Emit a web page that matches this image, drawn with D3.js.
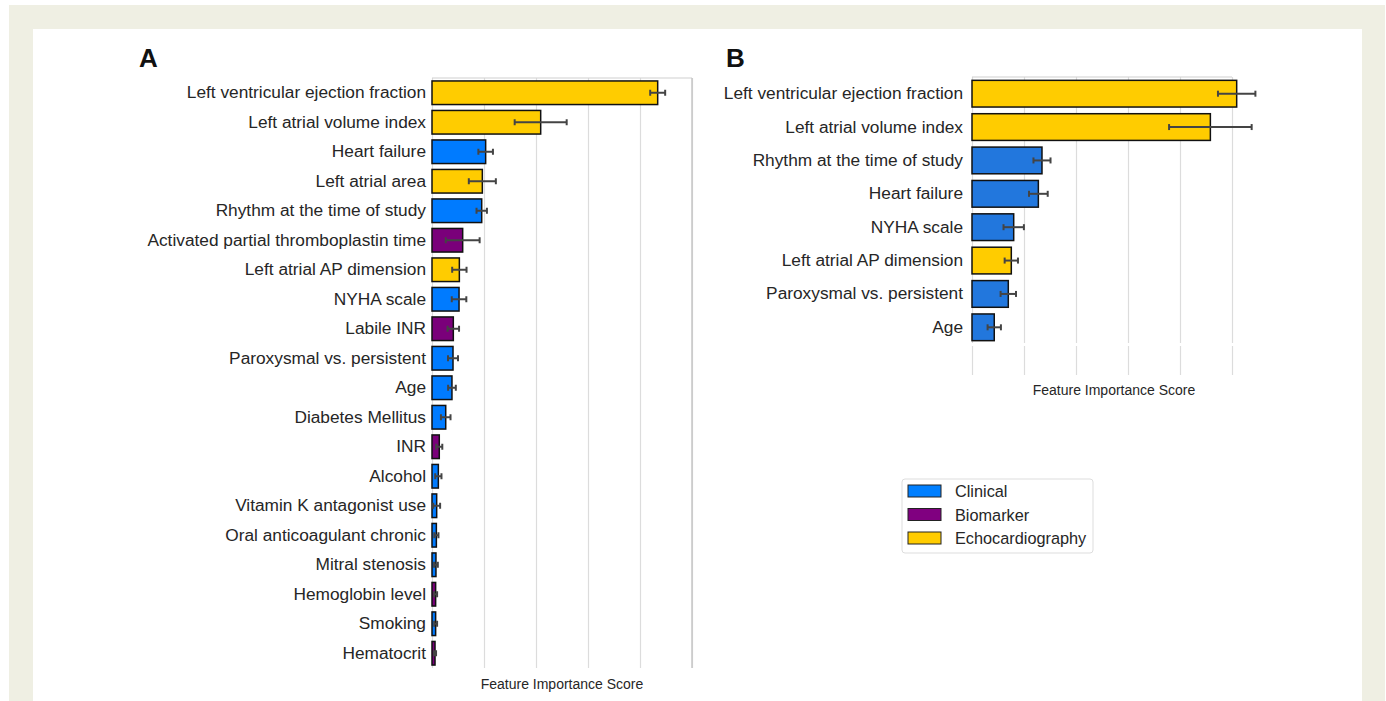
<!DOCTYPE html>
<html>
<head>
<meta charset="utf-8">
<script src="https://cdn.jsdelivr.net/npm/d3@7"></script>
<style>
body { margin: 0; background: #fff; }
text { font-family: "Liberation Sans", Arial, sans-serif; }
</style>
</head>
<body>
<div id="chart"></div>
<script>
// panel A: all features
var featuresA = ["Left ventricular ejection fraction", "Left atrial volume index", "Heart failure",
    "Left atrial area", "Rhythm at the time of study", "Activated partial thromboplastin time",
    "Left atrial AP dimension", "NYHA scale", "Labile INR", "Paroxysmal vs. persistent", "Age",
    "Diabetes Mellitus", "INR", "Alcohol", "Vitamin K antagonist use", "Oral anticoagulant chronic",
    "Mitral stenosis", "Hemoglobin level", "Smoking", "Hematocrit"];
var scoresA = [0.217, 0.1045, 0.0516, 0.0484, 0.0478, 0.0295, 0.0263, 0.026, 0.0205, 0.0202, 0.0192,
    0.0132, 0.007, 0.0061, 0.0045, 0.0042, 0.0038, 0.0035, 0.0035, 0.0029];
var errorsA = [0.0072, 0.025, 0.007, 0.013, 0.005, 0.0163, 0.0069, 0.007, 0.0055, 0.0048, 0.0037,
    0.0046, 0.0029, 0.003, 0.0033, 0.002, 0.0018, 0.0014, 0.0014, 0.001];
var groupsA = ["Echocardiography", "Echocardiography", "Clinical", "Echocardiography", "Clinical",
    "Biomarker", "Echocardiography", "Clinical", "Biomarker", "Clinical", "Clinical", "Clinical",
    "Biomarker", "Clinical", "Clinical", "Clinical", "Clinical", "Biomarker", "Clinical", "Biomarker"];

// panel B: selected features
var featuresB = ["Left ventricular ejection fraction", "Left atrial volume index", "Rhythm at the time of study",
    "Heart failure", "NYHA scale", "Left atrial AP dimension", "Paroxysmal vs. persistent", "Age"];
var scoresB = [0.2545, 0.2292, 0.0673, 0.0638, 0.0401, 0.0378, 0.0349, 0.0214];
var errorsB = [0.018, 0.0397, 0.0082, 0.009, 0.0098, 0.0064, 0.0074, 0.0064];
var groupsB = ["Echocardiography", "Echocardiography", "Clinical", "Clinical", "Clinical",
    "Echocardiography", "Clinical", "Clinical"];

var categories = ["Clinical", "Biomarker", "Echocardiography"];
var gridTicks = [0, 0.05, 0.1, 0.15, 0.2, 0.25];

var colorA = d3.scaleOrdinal(categories, ["#007bff", "#7a007a", "#ffcc00"]);
var colorB = d3.scaleOrdinal(categories, ["#2277dd", "#7a007a", "#ffcc00"]);
var colorLegend = d3.scaleOrdinal(categories, ["#007fff", "#800080", "#ffcc00"]);

var svg = d3.select("#chart")
    .append("svg")
    .attr("width", 1386)
    .attr("height", 701);

// beige frame
svg.append("rect").attr("x", 9).attr("y", 5).attr("width", 1376).attr("height", 696).attr("fill", "#efefe3");
svg.append("rect").attr("x", 33).attr("y", 29).attr("width", 1329).attr("height", 672).attr("fill", "#fff");

function drawPanel(cfg) {
    var list = cfg.names.map(function (n, i) {
        return { name: n, score: cfg.scores[i], err: cfg.errors[i], group: cfg.groups[i] };
    });

    var x = d3.scaleLinear().domain([0, 0.25]).range([cfg.left, cfg.right]);
    var y = d3.scaleBand().domain(cfg.names).range([cfg.top, cfg.bottom])
        .paddingInner(0.2).paddingOuter(0.1);

    var g = svg.append("g");

    // vertical grid
    g.append("g")
        .attr("transform", "translate(0," + cfg.gridEnd + ")")
        .call(d3.axisBottom(x).tickValues(gridTicks).tickSize(-(cfg.gridEnd - cfg.top)).tickFormat(""))
        .call(function (a) {
            a.select(".domain").remove();
            a.selectAll(".tick line").attr("stroke", "#dcdcdc").attr("stroke-width", 1.2);
        });

    if (cfg.gap) {
        // white break between plot area and tick stubs
        g.append("rect").attr("x", cfg.left - 2).attr("y", cfg.gap[0])
            .attr("width", cfg.right - cfg.left + 4).attr("height", cfg.gap[1] - cfg.gap[0])
            .attr("fill", "#fff");
    }

    // frame: top and right
    g.append("line").attr("x1", cfg.left).attr("x2", cfg.right).attr("y1", cfg.top).attr("y2", cfg.top)
        .attr("stroke", "#d0d0d0").attr("stroke-width", 1.2);
    if (cfg.rightBorder) {
        g.append("line").attr("x1", cfg.right).attr("x2", cfg.right).attr("y1", cfg.top).attr("y2", cfg.gridEnd)
            .attr("stroke", "#c4c4c4").attr("stroke-width", 1.4);
    }

    // category labels
    g.append("g")
        .attr("transform", "translate(" + cfg.left + ",0)")
        .call(d3.axisLeft(y).tickSize(0).tickPadding(cfg.labelPad))
        .call(function (a) {
            a.select(".domain").remove();
            a.selectAll("text").attr("font-size", 17.3).attr("fill", "#262626")
                .style("font-family", "'Liberation Sans', Arial, sans-serif");
        });

    g.selectAll("rect.bar")
        .data(list)
        .join("rect")
        .attr("class", "bar")
        .attr("x", x(0))
        .attr("y", d => y(d.name))
        .attr("width", d => x(d.score) - x(0))
        .attr("height", y.bandwidth())
        .attr("fill", d => cfg.color(d.group))
        .attr("stroke", "#111")
        .attr("stroke-width", 1.5);

    var eb = g.selectAll("g.err")
        .data(list)
        .join("g")
        .attr("class", "err")
        .attr("stroke", "#444")
        .attr("stroke-width", 2);
    eb.append("line")
        .attr("x1", d => x(d.score - d.err)).attr("x2", d => x(d.score + d.err))
        .attr("y1", d => y(d.name) + y.bandwidth() / 2).attr("y2", d => y(d.name) + y.bandwidth() / 2);
    eb.append("line")
        .attr("x1", d => x(d.score - d.err)).attr("x2", d => x(d.score - d.err))
        .attr("y1", d => y(d.name) + y.bandwidth() / 2 - 3).attr("y2", d => y(d.name) + y.bandwidth() / 2 + 3);
    eb.append("line")
        .attr("x1", d => x(d.score + d.err)).attr("x2", d => x(d.score + d.err))
        .attr("y1", d => y(d.name) + y.bandwidth() / 2 - 3).attr("y2", d => y(d.name) + y.bandwidth() / 2 + 3);

    // title & panel letter
    g.append("text")
        .attr("x", cfg.titleX)
        .attr("y", cfg.titleY)
        .attr("text-anchor", "middle")
        .attr("font-size", 14)
        .attr("fill", "#262626")
        .text("Feature Importance Score");
    g.append("text")
        .attr("x", cfg.letterX)
        .attr("y", 67)
        .attr("font-size", 26)
        .attr("font-weight", "bold")
        .attr("fill", "#111")
        .text(cfg.letter);
}

drawPanel({
    names: featuresA, scores: scoresA, errors: errorsA, groups: groupsA, color: colorA,
    left: 432, right: 692, top: 78, bottom: 668, gridEnd: 668,
    rightBorder: true, labelPad: 6, titleX: 562, titleY: 689, letter: "A", letterX: 139
});

drawPanel({
    names: featuresB, scores: scoresB, errors: errorsB, groups: groupsB, color: colorB,
    left: 972, right: 1232, top: 77, bottom: 344, gridEnd: 375, gap: [343, 346],
    rightBorder: false, labelPad: 9, titleX: 1114, titleY: 395, letter: "B", letterX: 726
});

// legend
var legend = svg.append("g").attr("transform", "translate(902,479)");
legend.append("rect")
    .attr("width", 191).attr("height", 74).attr("rx", 3)
    .attr("fill", "#fff").attr("stroke", "#dddddd");
var items = legend.selectAll("g.item")
    .data(categories)
    .join("g")
    .attr("class", "item")
    .attr("transform", (d, i) => "translate(6," + (6 + i * 23.5) + ")");
items.append("rect")
    .attr("width", 33).attr("height", 12)
    .attr("fill", d => colorLegend(d))
    .attr("stroke", "#222").attr("stroke-width", 1);
items.append("text")
    .attr("x", 47).attr("y", 12)
    .attr("font-size", 16.3)
    .attr("fill", "#262626")
    .text(d => d);
</script>
</body>
</html>
